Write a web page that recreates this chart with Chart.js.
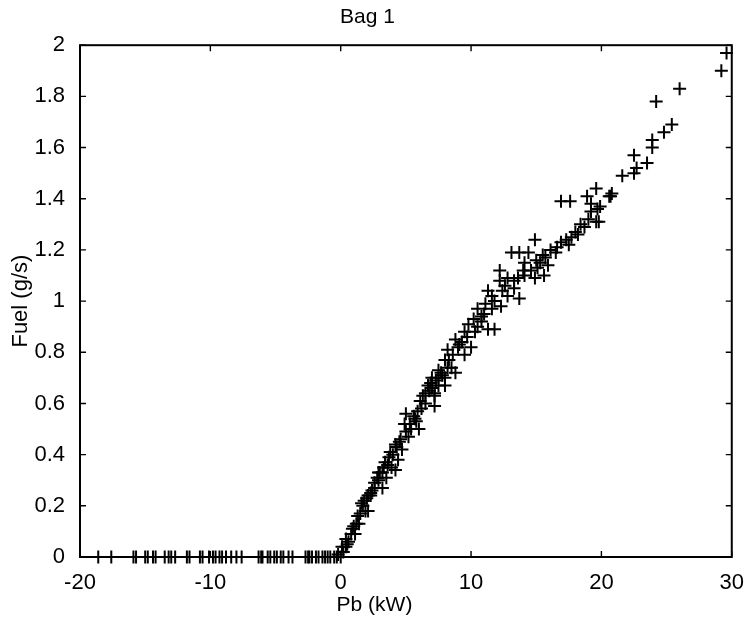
<!DOCTYPE html>
<html>
<head>
<meta charset="utf-8">
<script src="https://cdn.jsdelivr.net/npm/chart.js@4/dist/chart.umd.min.js"></script>
<style>
  body { margin: 0; background: #fff; }
  #wrap { width: 749px; height: 625px; }
</style>
</head>
<body>
<div id="wrap"><canvas id="bag"></canvas></div>
<script>
// fuel is zero for all these braking / idle power values
const zeroPb = [-18.6, -17.6, -15.9, -15.7, -15.0, -14.8, -14.4, -14.2, -13.5, -13.2,
  -13.0, -12.7, -11.8, -11.6, -10.8, -10.6, -10.1, -9.8, -9.6, -9.3, -9.1, -8.8,
  -8.4, -8.0, -7.6, -6.3, -6.1, -6.0, -5.6, -5.4, -5.1, -4.9, -4.6, -4.4, -4.0, -3.7,
  -2.7, -2.5, -2.4, -2.2, -1.9, -1.7, -1.4, -1.2, -1.0, -0.8, -0.5, -0.3, 0.0];

// positive power: fuel rises with Pb
const risePb = [-0.2, 0.1, 0.4, 0.4, 0.6, 0.8, 1.1, 1.0, 1.4, 1.3, 1.6, 1.9, 2.1, 1.8, 2.1,
  2.4, 2.6, 2.3, 2.8, 3.2, 2.9, 3.2, 3.5, 3.4, 3.7, 3.9, 3.3, 4.2, 4.4, 4.2, 4.7, 4.5,
  4.9, 5.0, 5.2, 5.4, 5.7, 6.0, 5.6, 5.9, 6.2, 6.5, 6.5, 6.7, 6.9, 7.0, 7.2, 7.2, 7.5,
  7.2, 7.5, 7.5, 7.7, 8.0, 8.0, 8.0, 8.2, 8.2, 8.5, 8.8, 8.8, 9.1, 9.5, 9.5, 9.8, 10.0,
  10.2, 10.5, 10.5, 11.0, 11.3, 11.8, 10.8, 11.3, 11.6, 11.8, 12.2, 12.2, 12.3, 12.6,
  12.8, 12.8, 13.1, 13.7, 14.4, 14.1, 13.6, 14.1, 14.9, 15.6, 15.1, 13.7, 13.3, 14.9,
  15.3, 15.7, 15.9, 16.1, 16.5, 16.6, 16.9, 17.3, 17.5, 17.7, 18.0, 18.2, 18.4, 18.7,
  19.0, 16.9, 17.6, 19.2, 19.7, 19.2, 19.6, 19.9, 19.8, 18.9, 19.6, 20.6, 20.7, 20.8,
  21.6, 22.5, 22.7, 22.5, 23.5, 23.9, 23.9, 24.8, 25.4, 24.2, 26.0, 29.2, 29.6,
  0.2, 0.5, 0.9, 1.2, 1.5, 1.7, 2.0, 2.3, 2.6, 2.9, 3.0, 3.6, 3.8, 4.0, 4.3, 4.6,
  5.0, 5.3, 5.8, 6.1, 6.3, 6.8, 7.0, 7.3, 7.8, 8.3, 8.6, 9.0, 9.3, 9.7, 10.3, 10.8,
  11.1, 11.6, 12.4, 13.3, 14.0, 14.6, 15.0, 15.5];
const riseFuel = [0.01, 0.04, 0.04, 0.07, 0.06, 0.09, 0.09, 0.12, 0.13, 0.16, 0.21, 0.18,
  0.24, 0.22, 0.18, 0.26, 0.29, 0.25, 0.31, 0.27, 0.33, 0.33, 0.31, 0.37, 0.39, 0.35,
  0.35, 0.34, 0.38, 0.44, 0.42, 0.45, 0.52, 0.56, 0.47, 0.50, 0.54, 0.50, 0.55, 0.57,
  0.58, 0.60, 0.64, 0.67, 0.68, 0.70, 0.59, 0.63, 0.67, 0.64, 0.70, 0.73, 0.72, 0.67,
  0.70, 0.77, 0.74, 0.81, 0.74, 0.72, 0.85, 0.83, 0.79, 0.88, 0.91, 0.82, 0.93, 0.90,
  0.97, 0.95, 0.89, 0.89, 0.92, 1.04, 0.97, 1.00, 1.08, 1.12, 0.98, 1.06, 1.02, 1.09,
  1.19, 1.19, 1.19, 1.15, 1.09, 1.10, 1.09, 1.10, 1.13, 1.01, 1.05, 1.24, 1.15, 1.17,
  1.14, 1.20, 1.19, 1.21, 1.23, 1.24, 1.22, 1.25, 1.27, 1.26, 1.30, 1.29, 1.32, 1.39,
  1.39, 1.38, 1.36, 1.35, 1.31, 1.37, 1.31, 1.41, 1.44, 1.41, 1.41, 1.42, 1.49, 1.57,
  1.52, 1.50, 1.54, 1.60, 1.63, 1.66, 1.69, 1.78, 1.83, 1.90, 1.97,
  0.02, 0.05, 0.11, 0.13, 0.17, 0.20, 0.23, 0.24, 0.27, 0.30, 0.33, 0.36, 0.41, 0.40,
  0.43, 0.46, 0.49, 0.52, 0.53, 0.61, 0.63, 0.65, 0.66, 0.69, 0.71, 0.77, 0.79, 0.82,
  0.84, 0.86, 0.88, 0.94, 0.99, 1.02, 1.04, 1.08, 1.12, 1.12, 1.16, 1.18];

const xTicks = [-20, -10, 0, 10, 20, 30];
const yTicks = [0, 0.2, 0.4, 0.6, 0.8, 1, 1.2, 1.4, 1.6, 1.8, 2];
const xTitle = 'Pb (kW)';

const points = zeroPb.map(p => ({x: p, y: 0}))
  .concat(risePb.map((p, i) => ({x: p, y: riseFuel[i]})));

const fontFam = '"Liberation Sans", Arial, Helvetica, sans-serif';
Chart.defaults.color = '#000';
Chart.defaults.font.family = fontFam;

// matlab style box with inward ticks on all four sides, plus the x label
// (which in the original sits at page centre, not plot centre)
const boxPlugin = {
  id: 'box',
  afterDatasetsDraw(chart) {
    const {ctx, chartArea: a, scales: {x, y}} = chart;
    ctx.save();
    ctx.strokeStyle = '#000';
    ctx.lineWidth = 2;
    ctx.strokeRect(a.left, a.top, a.right - a.left, a.bottom - a.top);
    ctx.lineWidth = 1.4;
    ctx.beginPath();
    xTicks.forEach(v => {
      const px = x.getPixelForValue(v);
      ctx.moveTo(px, a.bottom); ctx.lineTo(px, a.bottom - 6);
      ctx.moveTo(px, a.top); ctx.lineTo(px, a.top + 6);
    });
    yTicks.forEach(v => {
      const py = y.getPixelForValue(v);
      ctx.moveTo(a.left, py); ctx.lineTo(a.left + 6, py);
      ctx.moveTo(a.right, py); ctx.lineTo(a.right - 6, py);
    });
    ctx.stroke();
    ctx.fillStyle = '#000';
    ctx.font = '21px ' + fontFam;
    ctx.textAlign = 'center';
    ctx.textBaseline = 'middle';
    ctx.fillText(xTitle, chart.width / 2, 605);
    ctx.restore();
  }
};

new Chart(document.getElementById('bag'), {
  type: 'scatter',
  data: {
    datasets: [{
      label: 'Bag 1',
      data: points,
      pointStyle: 'cross',
      pointRadius: 6.5,
      borderColor: '#000',
      backgroundColor: '#000',
      borderWidth: 2,
      clip: false
    }]
  },
  options: {
    responsive: true,
    maintainAspectRatio: false,
    animation: false,
    layout: {padding: {top: 0, right: 14, bottom: 0, left: 0}},
    plugins: {
      legend: {display: false},
      tooltip: {enabled: false},
      title: {
        display: true,
        text: 'Bag 1',
        font: {size: 21, weight: 'normal'},
        padding: {top: 5, bottom: 15}
      }
    },
    scales: {
      x: {
        type: 'linear',
        min: -20, max: 30,
        afterBuildTicks: s => { s.ticks = xTicks.map(v => ({value: v})); },
        afterFit: s => { s.height = 68; },
        grid: {display: false},
        border: {display: false},
        ticks: {font: {size: 22}, padding: 5}
      },
      y: {
        min: 0, max: 2,
        afterBuildTicks: s => { s.ticks = yTicks.map(v => ({value: v})); },
        afterFit: s => { s.width = 80; },
        grid: {display: false},
        border: {display: false},
        ticks: {font: {size: 22}, padding: 7, callback: v => String(Number(v.toFixed(1)))},
        title: {display: true, text: 'Fuel (g/s)', font: {size: 22}, padding: {top: 8, bottom: 0}}
      }
    }
  },
  plugins: [boxPlugin]
});
</script>
</body>
</html>
